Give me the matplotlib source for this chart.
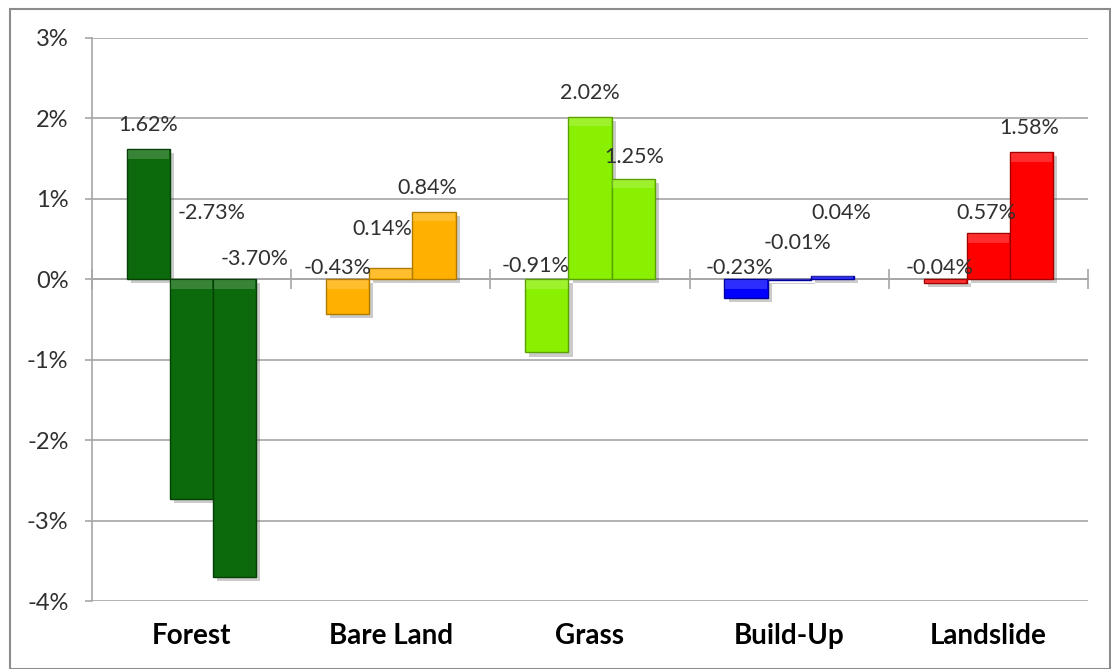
import matplotlib
matplotlib.use("Agg")
import matplotlib.pyplot as plt
import matplotlib.patheffects as pe
from matplotlib.patches import Rectangle
import numpy as np

plt.rcParams['axes.unicode_minus'] = False
plt.rcParams['font.family'] = ['Lato', 'DejaVu Sans']

# data (percent change)
categories = ["Forest", "Bare Land", "Grass", "Build-Up", "Landslide"]
forest = [1.62, -2.73, -3.70]
bare_land = [-0.43, 0.14, 0.84]
grass = [-0.91, 2.02, 1.25]
build_up = [-0.23, -0.01, 0.04]
landslide = [-0.04, 0.57, 1.58]
values = [forest, bare_land, grass, build_up, landslide]

colors = ["#0c6a0c", "#ffb000", "#88f000", "#0000ff", "#ff0000"]
edges = ["#064006", "#b07a00", "#5aa000", "#00009a", "#a00000"]

# where the data labels sit (offset from bar centre, y in %)
label_dx = [[0.0, 0.10, 0.10],
            [-0.05, -0.045, -0.035],
            [-0.055, 0.0, 0.005],
            [-0.035, 0.04, 0.045],
            [-0.03, -0.01, -0.01]]
label_y = [[1.92, 0.82, 0.25],
           [0.14, 0.63, 1.14],
           [0.16, 2.32, 1.52],
           [0.14, 0.45, 0.83],
           [0.14, 0.82, 1.88]]

fig = plt.figure(figsize=(11.11, 6.69), dpi=100)
fig.patches.append(Rectangle((10/1111, 0), 1 - 10/1111 - 0.001, 1 - 9/669,
                             transform=fig.transFigure, fill=False,
                             edgecolor="#8c8c8c", linewidth=1.5))
ax = fig.add_axes([0.0828, 0.1016, 0.8965, 0.8416])

w = 0.65 / 3
shadow = [pe.SimplePatchShadow(offset=(3, -3), alpha=0.3, shadow_rgbFace="#555555"),
          pe.Normal()]
for i, vals in enumerate(values):
    xs = i + 0.5 + np.array([-w, 0, w])
    bars = ax.bar(xs, vals, width=w, color=colors[i], edgecolor=edges[i],
                  linewidth=1.0, zorder=3)
    for b in bars:
        b.set_path_effects(shadow)
        # light bevel strip on the top end
        h = b.get_height()
        x0 = b.get_x()
        top = max(h, 0)
        bev = min(abs(h), 0.12)
        ax.add_patch(Rectangle((x0 + 0.02 * w, top - bev), w * 0.96, bev * 0.9,
                               facecolor="white", alpha=0.18, linewidth=0, zorder=4))
    for j, v in enumerate(vals):
        ax.text(xs[j] + label_dx[i][j], label_y[i][j], "%.2f%%" % v,
                ha="center", va="center", fontsize=15.5, color="#303030", zorder=5)
    ax.text(i + 0.5, -0.062, categories[i], transform=ax.get_xaxis_transform(),
            ha="center", va="center", fontsize=20, fontweight="bold", color="black")

ax.set_xlim(0, 5)
ax.set_ylim(-4, 3)
yt = np.arange(-4, 4)
ax.set_yticks(yt)
ax.set_yticklabels(["%d%%" % t for t in yt])
ax.yaxis.grid(True, color="#a6a6a6", linewidth=1.2, zorder=0)
ax.set_axisbelow(True)

for s in ["top", "right"]:
    ax.spines[s].set_visible(False)
ax.spines["left"].set_color("#a6a6a6")
ax.spines["left"].set_linewidth(1.2)
ax.spines["bottom"].set_position(("data", 0))
ax.spines["bottom"].set_color("#a6a6a6")
ax.spines["bottom"].set_linewidth(1.2)
ax.spines["bottom"].set_zorder(2)

ax.set_xticks(np.arange(0, 6))
ax.set_xticklabels([])
ax.tick_params(axis="x", direction="inout", length=14, color="#a6a6a6", width=1.2)
ax.tick_params(axis="y", direction="out", length=5, color="#a6a6a6", width=1.2,
               pad=12, labelsize=17, labelcolor="#303030")

fig.savefig("out.png", dpi=100)
